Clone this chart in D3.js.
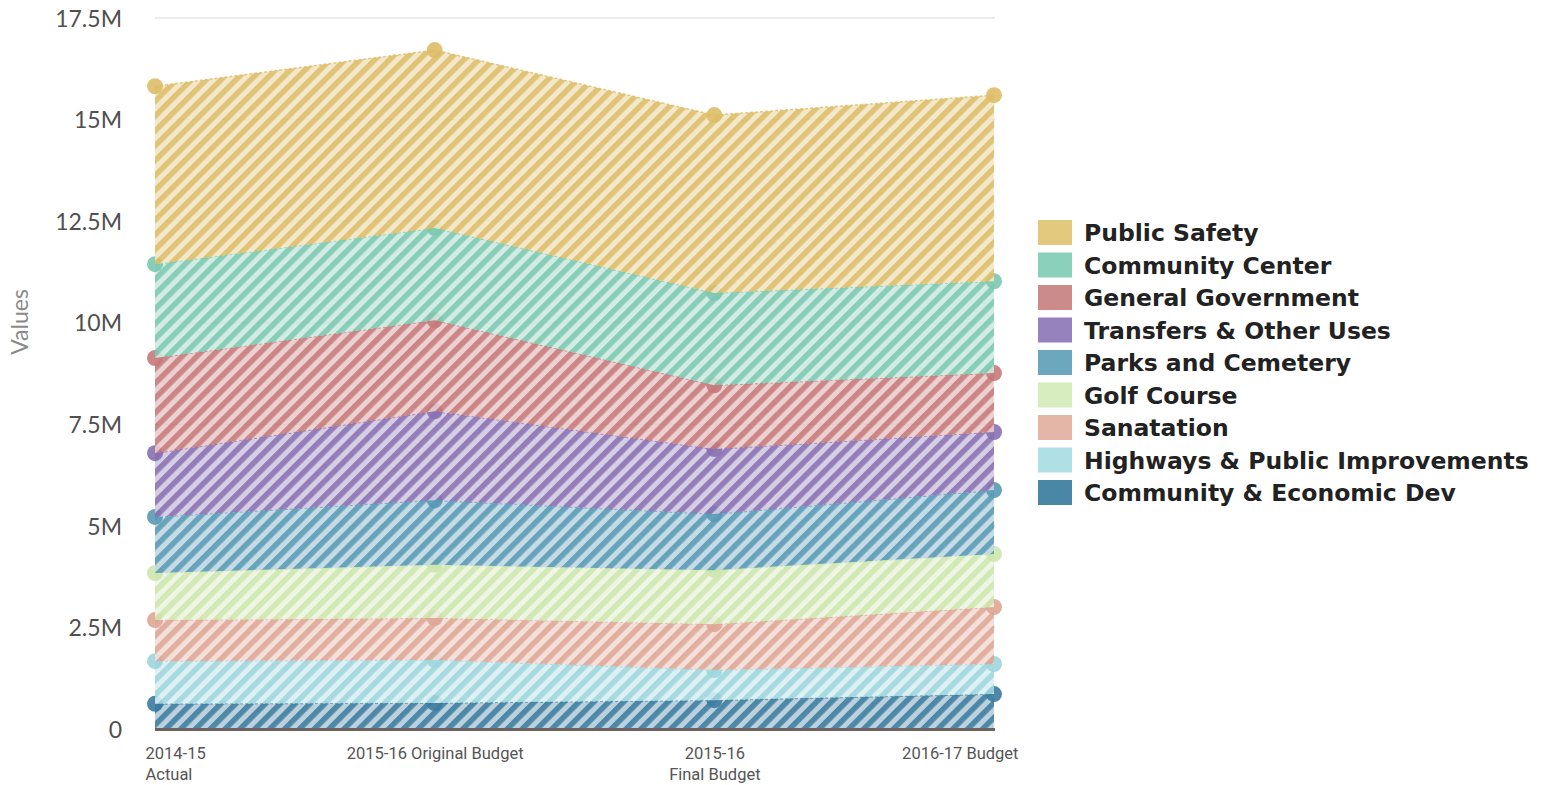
<!DOCTYPE html>
<html>
<head>
<meta charset="utf-8">
<script src="https://cdn.jsdelivr.net/npm/d3@7"></script>
<style>
  body { margin: 0; background: #fff; }
  svg { display: block; }
</style>
</head>
<body>
<div id="chart"></div>
<script>
// budget by function, stacked (values in $)
const periods = ["2014-15 Actual", "2015-16 Original Budget", "2015-16 Final Budget", "2016-17 Budget"];
const periodLines = [["2014-15", "Actual"], ["2015-16 Original Budget"], ["2015-16", "Final Budget"], ["2016-17 Budget"]];

// bottom of stack first
const seriesNames = ["Community & Economic Dev", "Highways & Public Improvements", "Sanatation", "Golf Course",
                     "Parks and Cemetery", "Transfers & Other Uses", "General Government", "Community Center", "Public Safety"];
const seriesColors = ["#3b7b9e", "#9cd6dd", "#dfa695", "#cde5ad", "#5899b5", "#8870b2", "#c67979", "#7bc8b0", "#ddbd66"];
const legendColors = ["#4a86a6", "#aee0e5", "#e4b6a8", "#d7ecbf", "#6ba7bf", "#9682bd", "#cc8b8b", "#8bd0bb", "#e3c97e"];

const communityEconDev = [620000, 640000, 710000, 860000];
const highways         = [1050000, 1060000, 740000, 740000];
const sanatation       = [1010000, 1030000, 1130000, 1400000];
const golfCourse       = [1160000, 1310000, 1330000, 1310000];
const parksCemetery    = [1380000, 1590000, 1380000, 1570000];
const transfers        = [1570000, 2190000, 1600000, 1430000];
const generalGov       = [2340000, 2240000, 1570000, 1450000];
const communityCenter  = [2310000, 2270000, 2270000, 2260000];
const publicSafety     = [4380000, 4380000, 4380000, 4580000];

const yTicks = [0, 2500000, 5000000, 7500000, 10000000, 12500000, 15000000, 17500000];
const yTickLabels = ["0", "2.5M", "5M", "7.5M", "10M", "12.5M", "15M", "17.5M"];

function init() {
    const allSeries = [communityEconDev, highways, sanatation, golfCourse, parksCemetery,
                       transfers, generalGov, communityCenter, publicSafety];

    const rows = periods.map(function(p, i) {
        const r = { period: p };
        seriesNames.forEach(function(n, k) { r[n] = allSeries[k][i]; });
        return r;
    });

    const stacked = d3.stack().keys(seriesNames)(rows);

    const width = 1549, height = 785;

    const svg = d3.select("#chart").append("svg")
        .attr("width", width)
        .attr("height", height);

    const x = d3.scalePoint()
        .domain(periods)
        .range([155, 994]);

    const y = d3.scaleLinear()
        .domain([0, 17500000])
        .range([729, 18]);

    // hatch patterns
    const defs = svg.append("defs");
    seriesNames.forEach(function(n, i) {
        const p = defs.append("pattern")
            .attr("id", "hatch" + i)
            .attr("patternUnits", "userSpaceOnUse")
            .attr("width", 10.5)
            .attr("height", 10.5)
            .attr("patternTransform", "rotate(45)");
        p.append("rect").attr("width", 10.5).attr("height", 10.5).attr("fill", seriesColors[i]);
        p.append("rect").attr("x", 5.5).attr("width", 5).attr("height", 10.5)
            .attr("fill", "#ffffff").attr("fill-opacity", 0.62);
    });

    // gridlines
    svg.append("g")
        .selectAll("line")
        .data(yTicks)
        .enter().append("line")
          .attr("x1", 155)
          .attr("x2", 995)
          .attr("y1", d => y(d))
          .attr("y2", d => y(d))
          .attr("stroke", "#d9d9d9")
          .attr("stroke-width", 1.2);

    // y axis labels
    const yAxis = svg.append("g")
        .attr("transform", "translate(122,0)")
        .call(d3.axisLeft(y).tickValues(yTicks).tickSize(0).tickPadding(0)
              .tickFormat((d, i) => yTickLabels[i]));
    yAxis.select(".domain").remove();
    yAxis.selectAll("text")
        .attr("font-family", "Lato, 'Open Sans', sans-serif")
        .attr("font-size", "23px")
        .attr("fill", "#505050")
        .attr("dy", "0.36em");

    svg.append("text")
        .attr("transform", "translate(28,322) rotate(-90)")
        .attr("text-anchor", "middle")
        .attr("font-family", "Lato, 'Open Sans', sans-serif")
        .attr("font-size", "23px")
        .attr("fill", "#8a8a8a")
        .text("Values");

    const area = d3.area()
        .x(d => x(d.data.period))
        .y0(d => y(d[0]))
        .y1(d => y(d[1]));

    const topLine = d3.line()
        .x(d => x(d.data.period))
        .y(d => y(d[1]));

    // areas, bottom to top; circles of a layer sit under the next layer
    stacked.forEach(function(layer, i) {
        const g = svg.append("g");
        g.append("path")
            .datum(layer)
            .attr("d", area)
            .attr("fill", "url(#hatch" + i + ")")
            .attr("fill-opacity", 0.9);
        g.append("path")
            .datum(layer)
            .attr("d", topLine)
            .attr("fill", "none")
            .attr("stroke", seriesColors[i])
            .attr("stroke-width", 1.5)
            .attr("stroke-dasharray", "3,2")
            .attr("opacity", 0.8);
        g.selectAll("circle")
            .data(layer)
            .enter().append("circle")
              .attr("cx", d => x(d.data.period))
              .attr("cy", d => y(d[1]))
              .attr("r", 8)
              .attr("fill", seriesColors[i])
              .attr("opacity", 0.9);
    });

    // baseline
    svg.append("line")
        .attr("x1", 155).attr("x2", 995)
        .attr("y1", y(0) + 0.5).attr("y2", y(0) + 0.5)
        .attr("stroke", "#6e6262")
        .attr("stroke-width", 3);

    // x axis labels
    const xAxis = svg.append("g")
        .attr("transform", "translate(0," + y(0) + ")")
        .call(d3.axisBottom(x).tickSize(0).tickFormat(""));
    xAxis.select(".domain").remove();
    const anchors = ["start", "middle", "middle", "end"];
    const shifts = [-10, 0, 0, 24];
    xAxis.selectAll(".tick text")
        .attr("font-family", "'Liberation Sans Narrow', 'Roboto', sans-serif")
        .attr("font-size", "16.5px")
        .attr("fill", "#555")
        .attr("text-anchor", (d, i) => anchors[i])
        .attr("y", 0)
        .attr("dy", 0)
        .each(function(d, i) {
            const t = d3.select(this);
            periodLines[i].forEach(function(line, k) {
                t.append("tspan")
                    .attr("x", shifts[i])
                    .attr("y", 30 + k * 21)
                    .text(line);
            });
        });

    // legend, top of stack first
    const legendOrder = seriesNames.map((n, i) => i).reverse();
    const legend = svg.append("g")
        .attr("transform", "translate(1038,220)");
    legend.selectAll("rect")
        .data(legendOrder)
        .enter().append("rect")
          .attr("x", 0)
          .attr("y", (d, k) => k * 32.5)
          .attr("width", 34)
          .attr("height", 25)
          .attr("fill", d => legendColors[d]);
    legend.selectAll("text")
        .data(legendOrder)
        .enter().append("text")
          .attr("x", 46)
          .attr("y", (d, k) => k * 32.5 + 21)
          .attr("font-family", "'DejaVu Sans', Verdana, sans-serif")
          .attr("font-weight", "bold")
          .attr("font-size", "23.5px")
          .attr("fill", "#222")
          .text(d => seriesNames[d]);
}

init();
</script>
</body>
</html>
